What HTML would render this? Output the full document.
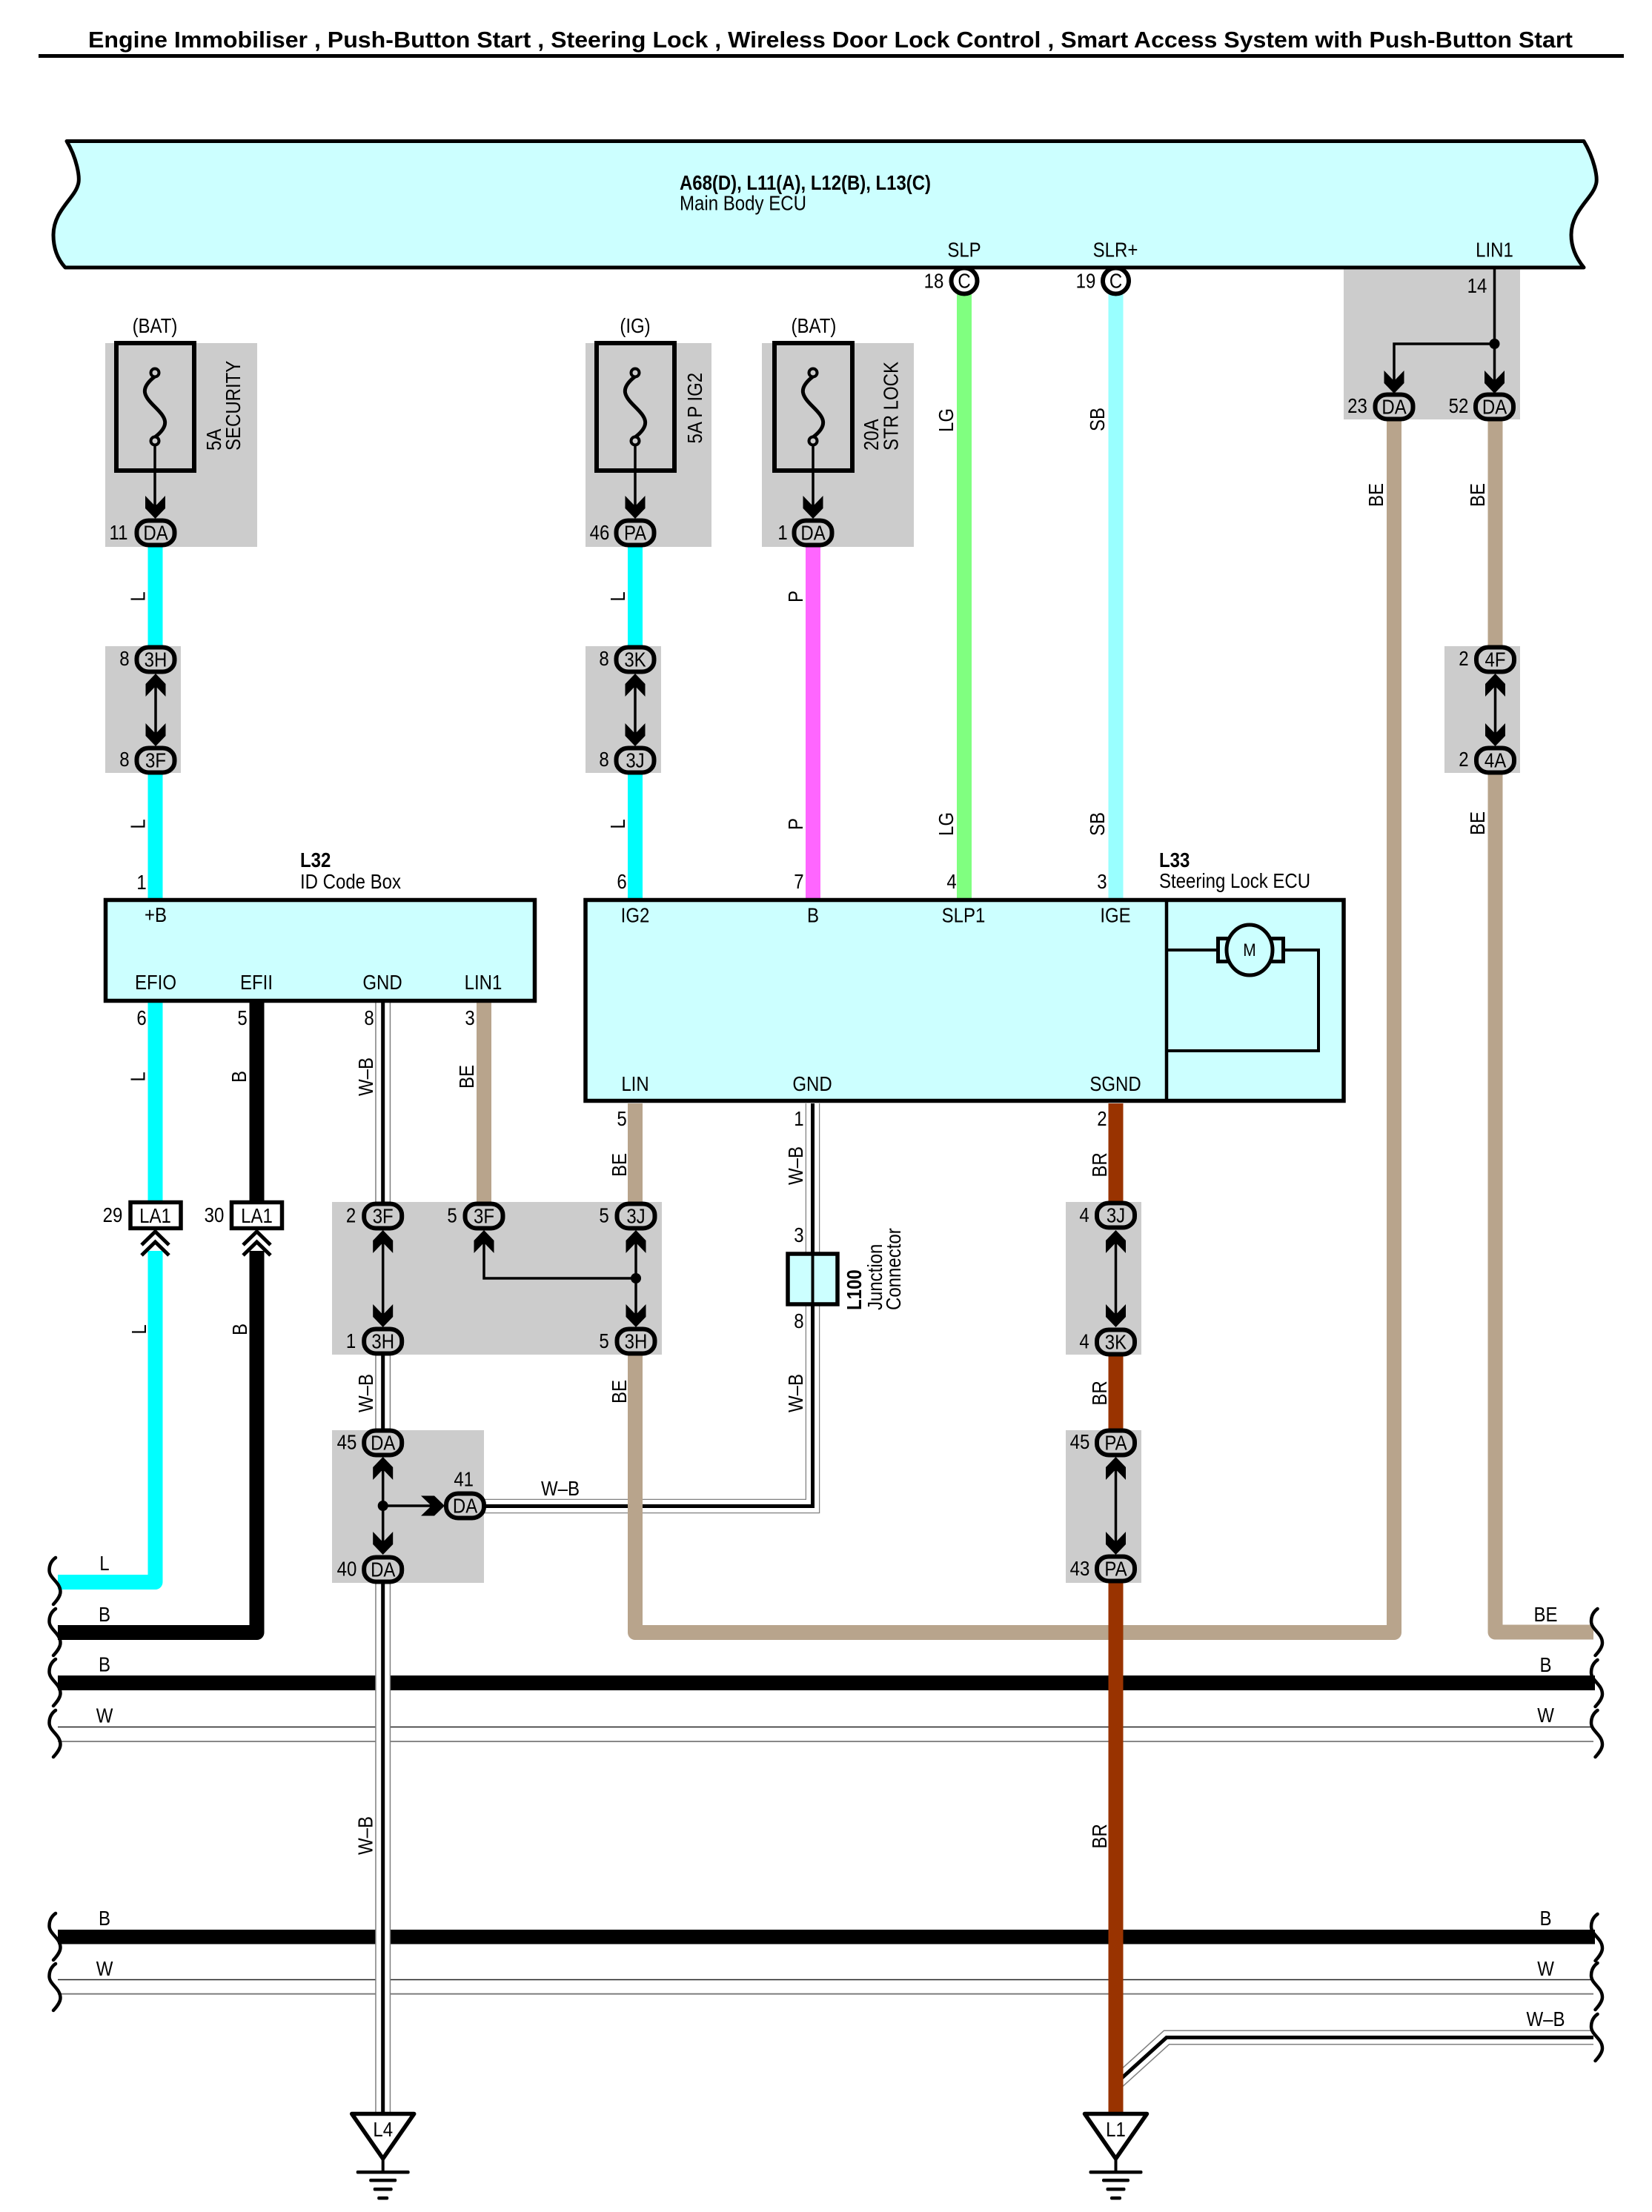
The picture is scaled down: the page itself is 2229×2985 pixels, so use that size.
<!DOCTYPE html>
<html><head><meta charset="utf-8"><style>
html,body{margin:0;padding:0;background:#fff}
svg{display:block}
text{font-family:"Liberation Sans",sans-serif;font-size:27.5px;fill:#000;text-anchor:middle;transform-box:fill-box;transform-origin:center;transform:scaleX(.873)}
.s{text-anchor:start;transform-origin:left center}
.b{font-weight:bold}
.n{transform:none}
</style></head><body>
<svg xmlns="http://www.w3.org/2000/svg" width="2229" height="2985" viewBox="0 0 2229 2985">
<defs>
<g id="p"><rect x="-25.5" y="-16.5" width="51" height="33" rx="16" ry="15" fill="#ccc" stroke="#000" stroke-width="6"/></g>
<g id="c"><circle r="17.5" fill="#fff" stroke="#000" stroke-width="6"/></g>
<path id="ad" d="M0,0 L-13.5,-14 L-13.5,-31 L-2,-19 L2,-19 L13.5,-31 L13.5,-14 Z" fill="#000"/>
<path id="au" d="M0,0 L-13.5,14 L-13.5,31 L-2,19 L2,19 L13.5,31 L13.5,14 Z" fill="#000"/>
<path id="ar" d="M0,0 L-14,-13.5 L-32,-13.5 L-20,-2 L-20,2 L-32,13.5 L-14,13.5 Z" fill="#000"/>
<path id="brk" d="M8.5,0 C3,4 0,10 0,17 C0,28 15,33 15,46 C15,52 10,58 5.5,63" fill="none" stroke="#000" stroke-width="4.5" stroke-linecap="round"/>
<g id="fuse" fill="none" stroke="#000">
<rect x="-52" y="0" width="105" height="172" stroke-width="6" fill="#ccc"/>
<path d="M0,45 C-22,62 -14,72 0,86 C14,100 22,110 0,127" stroke-width="5"/>
<circle cx="0" cy="40" r="5.5" stroke-width="4" fill="#ccc"/>
<circle cx="0" cy="132" r="5.5" stroke-width="4" fill="#ccc"/>
<path d="M0,137 V230" stroke-width="3.5"/>
</g>
<g id="gnd" fill="#000">
<path d="M-42,2.5 H42 L0,63 Z" fill="#fff" stroke="#000" stroke-width="5.5" stroke-linejoin="round"/>
<rect x="-2" y="63" width="4" height="18"/>
<rect x="-36" y="79" width="72" height="4.5" rx="2"/>
<rect x="-18.5" y="90" width="37" height="4.5" rx="2"/>
<rect x="-13" y="102" width="26" height="4.5" rx="2"/>
<rect x="-7.5" y="114" width="15" height="4.5" rx="2"/>
</g>
</defs>

<rect width="2229" height="2985" fill="#fff"/>

<!-- title -->
<text class="b s n" x="119" y="64" style="font-size:31px" textLength="2003" lengthAdjust="spacingAndGlyphs">Engine Immobiliser , Push-Button Start , Steering Lock , Wireless Door Lock Control , Smart Access System with Push-Button Start</text>
<rect x="52" y="73" width="2139" height="5" fill="#000"/>

<!-- grey boxes -->
<g fill="#ccc">
<rect x="142" y="463" width="205" height="275"/>
<rect x="790" y="463" width="170" height="275"/>
<rect x="1028" y="463" width="205" height="275"/>
<rect x="1813" y="361" width="238" height="205"/>
<rect x="142" y="872" width="102" height="171"/>
<rect x="790" y="872" width="102" height="171"/>
<rect x="1949" y="872" width="102" height="171"/>
<rect x="448" y="1622" width="445" height="206"/>
<rect x="448" y="1930" width="205" height="206"/>
<rect x="1438" y="1622" width="102" height="206"/>
<rect x="1438" y="1930" width="102" height="206"/>
</g>

<!-- main ECU -->
<path d="M90,190.5 H2137 C2150,212 2157,240 2153,250 C2148,268 2120,285 2120,317 C2120,335 2128,350 2137,361 H88 C78,350 72,335 72,317 C72,285 100,268 105,250 C109,240 103,212 90,190.5 Z" fill="#ccffff" stroke="#000" stroke-width="5" stroke-linejoin="round"/>
<text class="b s n" x="917" y="256" textLength="339" lengthAdjust="spacingAndGlyphs">A68(D), L11(A), L12(B), L13(C)</text>
<text class="s n" x="917" y="283.5" textLength="171" lengthAdjust="spacingAndGlyphs">Main Body ECU</text>
<text x="1301" y="346.5">SLP</text>
<text x="1505" y="346.5">SLR+</text>
<text x="2016.5" y="346.5">LIN1</text>

<!-- buses -->
<g fill="none">
<path d="M78,2271 H2152" stroke="#000" stroke-width="20"/>
<path d="M78,2613.7 H2152" stroke="#000" stroke-width="19.5"/>
<path d="M78,2330.5 H2150 M78,2671.5 H2150" stroke="#222" stroke-width="1.5"/>
<path d="M78,2350 H2150 M78,2690.7 H2150" stroke="#777" stroke-width="1.8"/>
</g>

<!-- W-B wires -->
<g fill="none" stroke-linejoin="miter">
<path d="M516.7,1353 V1641 M516.7,1810 V1947 M516.7,2118 V2850" stroke="#808080" stroke-width="21"/>
<path d="M516.7,1353 V1641 M516.7,1810 V1947 M516.7,2118 V2850" stroke="#fff" stroke-width="18"/>
<path d="M516.7,1353 V1641 M516.7,1810 V1947 M516.7,2118 V2850" stroke="#000" stroke-width="5"/>
<path d="M1096.5,1489 V2032.5 H627" stroke="#808080" stroke-width="19.5"/>
<path d="M1096.5,1489 V2032.5 H627" stroke="#fff" stroke-width="17"/>
<path d="M1096.5,1489 V2032.5 H627" stroke="#000" stroke-width="5"/>
<path d="M2150,2749.5 H1574 L1505,2812" stroke="#808080" stroke-width="20"/>
<path d="M2150,2749.5 H1574 L1505,2812" stroke="#fff" stroke-width="17"/>
<path d="M2150,2749.5 H1574 L1505,2812" stroke="#000" stroke-width="5"/>
</g>

<!-- coloured wires -->
<g fill="none" stroke-width="20" stroke-linejoin="round">
<path d="M209.5,738 V890 M209.5,1026 V1212 M209.5,1353 V1625 M209.5,1688 V2135 H78" stroke="#00ffff"/>
<path d="M857,738 V890 M857,1026 V1212" stroke="#00ffff"/>
<path d="M1097,738 V1212" stroke="#ff66ff"/>
<path d="M1301,396 V1212" stroke="#80ff80"/>
<path d="M1505.5,396 V1212" stroke="#99ffff"/>
<path d="M346.5,1353 V1625 M346.5,1688 V2203 H78" stroke="#000"/>
<path d="M653,1353 V1641" stroke="#b8a48c"/>
<path d="M857,1489 V1641 M857,1810 V2203 H1881 V549" stroke="#b8a48c"/>
<path d="M2017.5,549 V890 M2017.5,1026 V2202.5 H2150" stroke="#b8a48c"/>
<path d="M1505.5,1489 V1640 M1505.5,1811 V1947 M1505.5,2117 V2850" stroke="#993300"/>
</g>

<!-- breaks -->
<g>
<use href="#brk" x="66.5" y="2102"/><use href="#brk" x="66.5" y="2171"/><use href="#brk" x="66.5" y="2239"/><use href="#brk" x="66.5" y="2308"/>
<use href="#brk" x="66.5" y="2582"/><use href="#brk" x="66.5" y="2650"/>
<use href="#brk" x="2147" y="2171"/><use href="#brk" x="2147" y="2240"/><use href="#brk" x="2147" y="2308"/>
<use href="#brk" x="2147" y="2583"/><use href="#brk" x="2147" y="2649"/><use href="#brk" x="2147" y="2718"/>
</g>

<!-- fuses -->
<use href="#fuse" x="209" y="463"/>
<use href="#fuse" x="857" y="463"/>
<use href="#fuse" x="1097" y="463"/>
<text x="209" y="449">(BAT)</text>
<text x="857" y="449">(IG)</text>
<text x="1098" y="449">(BAT)</text>
<g transform="translate(298,608) rotate(-90)"><text class="s">5A</text></g>
<g transform="translate(324,608) rotate(-90)"><text class="s">SECURITY</text></g>
<g transform="translate(947,598.5) rotate(-90)"><text class="s">5A P IG2</text></g>
<g transform="translate(1185,608) rotate(-90)"><text class="s">20A</text></g>
<g transform="translate(1211.5,608) rotate(-90)"><text class="s">STR LOCK</text></g>

<!-- arrows and tie lines -->
<g stroke="#000" stroke-width="3.5" fill="none">
<path d="M210,925 V990 M857,925 V990 M2017.5,925 V990"/>
<path d="M516.7,1675 V1775 M858,1675 V1775 M858,1725 H653 V1675 M1505.5,1675 V1775"/>
<path d="M516.7,1982 V2082 M516.7,2032 H585 M1505.5,1982 V2082"/>
<path d="M2016.5,361 V515 M2016.5,464 H1881 V515"/>
</g>
<g fill="#000">
<circle cx="858" cy="1725" r="7"/><circle cx="516.7" cy="2032" r="7"/><circle cx="2016.5" cy="464" r="7"/>
</g>
<g>
<use href="#ad" x="209.5" y="700"/><use href="#ad" x="857" y="700"/><use href="#ad" x="1097" y="700"/>
<use href="#ad" x="1881" y="531"/><use href="#ad" x="2016.5" y="531"/>
<use href="#au" x="210" y="909"/><use href="#ad" x="210" y="1007"/>
<use href="#au" x="857" y="909"/><use href="#ad" x="857" y="1007"/>
<use href="#au" x="2017.5" y="909"/><use href="#ad" x="2017.5" y="1007"/>
<use href="#au" x="516.7" y="1660"/><use href="#ad" x="516.7" y="1791"/>
<use href="#au" x="653" y="1660"/>
<use href="#au" x="858" y="1660"/><use href="#ad" x="858" y="1791"/>
<use href="#au" x="1505.5" y="1660"/><use href="#ad" x="1505.5" y="1791"/>
<use href="#au" x="516.7" y="1966"/><use href="#ad" x="516.7" y="2098"/>
<use href="#ar" x="600" y="2032"/>
<use href="#au" x="1505.5" y="1966"/><use href="#ad" x="1505.5" y="2098"/>
</g>

<!-- pills -->
<use href="#p" x="210" y="719"/><text x="210" y="728.500">DA</text>
<use href="#p" x="857" y="719"/><text x="857" y="728.500">PA</text>
<use href="#p" x="1097" y="719"/><text x="1097" y="728.500">DA</text>
<use href="#c" x="1301" y="379"/><text x="1301" y="388.500">C</text>
<use href="#c" x="1505.5" y="379"/><text x="1505.5" y="388.500">C</text>
<use href="#p" x="1881" y="549"/><text x="1881" y="558.500">DA</text>
<use href="#p" x="2016.5" y="549"/><text x="2016.5" y="558.500">DA</text>
<use href="#p" x="210" y="890"/><text x="210" y="899.500">3H</text>
<use href="#p" x="210" y="1026"/><text x="210" y="1035.500">3F</text>
<use href="#p" x="857" y="890"/><text x="857" y="899.500">3K</text>
<use href="#p" x="857" y="1026"/><text x="857" y="1035.500">3J</text>
<use href="#p" x="2017.5" y="890"/><text x="2017.5" y="899.500">4F</text>
<use href="#p" x="2017.5" y="1026"/><text x="2017.5" y="1035.500">4A</text>
<use href="#p" x="516.7" y="1641"/><text x="516.7" y="1650.500">3F</text>
<use href="#p" x="653" y="1641"/><text x="653" y="1650.500">3F</text>
<use href="#p" x="858" y="1641"/><text x="858" y="1650.500">3J</text>
<use href="#p" x="516.7" y="1810"/><text x="516.7" y="1819.500">3H</text>
<use href="#p" x="858" y="1810"/><text x="858" y="1819.500">3H</text>
<use href="#p" x="1505.5" y="1640"/><text x="1505.5" y="1649.500">3J</text>
<use href="#p" x="1505.5" y="1811"/><text x="1505.5" y="1820.500">3K</text>
<use href="#p" x="516.7" y="1947"/><text x="516.7" y="1956.500">DA</text>
<use href="#p" x="516.7" y="2118"/><text x="516.7" y="2127.500">DA</text>
<use href="#p" x="627.5" y="2032"/><text x="627.5" y="2041.500">DA</text>
<use href="#p" x="1505.5" y="1947"/><text x="1505.5" y="1956.500">PA</text>
<use href="#p" x="1505.5" y="2117"/><text x="1505.5" y="2126.500">PA</text>

<!-- LA1 boxes -->
<g fill="#fff" stroke="#000" stroke-width="5.5">
<rect x="176" y="1622.5" width="68" height="35"/>
<rect x="312.5" y="1622.5" width="68" height="35"/>
</g>
<text x="209.5" y="1650">LA1</text><text x="346.5" y="1650">LA1</text>
<g fill="none" stroke="#000" stroke-width="5">
<path d="M191,1680 L209.5,1662 L228,1680 M191,1694 L209.5,1676 L228,1694"/>
<path d="M328,1680 L346.5,1662 L365,1680 M328,1694 L346.5,1676 L365,1694"/>
</g>

<!-- L32 -->
<rect x="142.5" y="1214.5" width="579" height="136" fill="#ccffff" stroke="#000" stroke-width="5.5"/>
<text class="b s" x="405" y="1170">L32</text>
<text class="s" x="405" y="1199">ID Code Box</text>
<text x="210" y="1244">+B</text>
<text x="210" y="1335">EFIO</text><text x="346" y="1335">EFII</text><text x="516" y="1335">GND</text><text x="652" y="1335">LIN1</text>

<!-- L33 -->
<rect x="790" y="1214.5" width="1023" height="271" fill="#ccffff" stroke="#000" stroke-width="5.5"/>
<path d="M1574,1214 V1486" stroke="#000" stroke-width="4.5"/>
<path d="M1574,1282 H1642 M1732,1282 H1779 V1418 H1574" fill="none" stroke="#000" stroke-width="4"/>
<rect x="1643.5" y="1266.5" width="88" height="31" fill="#ccffff" stroke="#000" stroke-width="5"/>
<ellipse cx="1686" cy="1282" rx="31" ry="34" fill="#ccffff" stroke="#000" stroke-width="5"/>
<text x="1686" y="1290" style="font-size:24px">M</text>
<text class="b s" x="1564" y="1170">L33</text>
<text class="s" x="1564" y="1198">Steering Lock ECU</text>
<text x="857" y="1244.5">IG2</text><text x="1097" y="1244.5">B</text><text x="1300" y="1244.5">SLP1</text><text x="1505" y="1244.5">IGE</text>
<text x="857" y="1472">LIN</text><text x="1096" y="1472">GND</text><text x="1505" y="1472">SGND</text>

<!-- L100 -->
<rect x="1063" y="1692" width="67" height="68" fill="#ccffff" stroke="#000" stroke-width="5.5"/>
<path d="M1096.5,1692 V1760" stroke="#000" stroke-width="4"/>
<g transform="translate(1162,1768) rotate(-90)"><text class="b s">L100</text></g>
<g transform="translate(1190,1768) rotate(-90)"><text class="s">Junction</text></g>
<g transform="translate(1215,1768) rotate(-90)"><text class="s">Connector</text></g>
<text x="1078" y="1676">3</text><text x="1078" y="1792">8</text>

<!-- grounds -->
<use href="#gnd" x="516.7" y="2850"/><text x="516.7" y="2883">L4</text>
<use href="#gnd" x="1505.5" y="2850"/><text x="1505.5" y="2883">L1</text>

<!-- pin numbers -->
<text x="160" y="728">11</text><text x="809" y="728">46</text><text x="1056" y="728">1</text>
<text x="1260" y="388.5">18</text><text x="1465" y="388.5">19</text><text x="1993" y="395">14</text>
<text x="1831.5" y="557">23</text><text x="1968" y="557">52</text>
<text x="168" y="898">8</text><text x="168" y="1034">8</text>
<text x="815" y="898">8</text><text x="815" y="1034">8</text>
<text x="1975" y="898">2</text><text x="1975" y="1034">2</text>
<text x="191" y="1200">1</text><text x="839" y="1199">6</text><text x="1078" y="1199">7</text><text x="1284" y="1199">4</text><text x="1487" y="1199">3</text>
<text x="191" y="1383">6</text><text x="327" y="1383">5</text><text x="498" y="1383">8</text><text x="634" y="1383">3</text>
<text x="839" y="1519">5</text><text x="1078" y="1519">1</text><text x="1487" y="1519">2</text>
<text x="152" y="1649">29</text><text x="289" y="1649">30</text>
<text x="473.5" y="1649.5">2</text><text x="610" y="1649.5">5</text><text x="815" y="1649.5">5</text>
<text x="473.5" y="1819">1</text><text x="815" y="1819">5</text>
<text x="1463" y="1649">4</text><text x="1463" y="1819.5">4</text>
<text x="468" y="1955.5">45</text><text x="468" y="2126.5">40</text><text x="625.7" y="2005.5">41</text>
<text x="1457" y="1955">45</text><text x="1457" y="2126">43</text>

<!-- horizontal wire labels -->
<text x="756" y="2018">W–B</text>
<text x="141" y="2119">L</text><text x="141" y="2188">B</text><text x="141" y="2255.5">B</text><text x="141" y="2324.5">W</text>
<text x="141" y="2598">B</text><text x="141" y="2666">W</text>
<text x="2085.5" y="2188">BE</text><text x="2085.5" y="2256">B</text><text x="2085.5" y="2324">W</text>
<text x="2085.5" y="2598">B</text><text x="2085.5" y="2666">W</text><text x="2085.5" y="2734">W–B</text>

<!-- rotated wire labels -->
<g transform="translate(195.7,805) rotate(-90)"><text>L</text></g>
<g transform="translate(195.7,1112) rotate(-90)"><text>L</text></g>
<g transform="translate(843,805) rotate(-90)"><text>L</text></g>
<g transform="translate(843,1112) rotate(-90)"><text>L</text></g>
<g transform="translate(1083,805) rotate(-90)"><text>P</text></g>
<g transform="translate(1083,1112) rotate(-90)"><text>P</text></g>
<g transform="translate(1286,567) rotate(-90)"><text>LG</text></g>
<g transform="translate(1286,1112) rotate(-90)"><text>LG</text></g>
<g transform="translate(1490,566) rotate(-90)"><text>SB</text></g>
<g transform="translate(1490,1112) rotate(-90)"><text>SB</text></g>
<g transform="translate(1866,668) rotate(-90)"><text>BE</text></g>
<g transform="translate(2003,668) rotate(-90)"><text>BE</text></g>
<g transform="translate(2003,1111) rotate(-90)"><text>BE</text></g>
<g transform="translate(195.5,1453) rotate(-90)"><text>L</text></g>
<g transform="translate(332,1453) rotate(-90)"><text>B</text></g>
<g transform="translate(503,1453) rotate(-90)"><text>W–B</text></g>
<g transform="translate(639,1453) rotate(-90)"><text>BE</text></g>
<g transform="translate(845,1572) rotate(-90)"><text>BE</text></g>
<g transform="translate(1083,1573) rotate(-90)"><text>W–B</text></g>
<g transform="translate(1493,1572) rotate(-90)"><text>BR</text></g>
<g transform="translate(197,1794) rotate(-90)"><text>L</text></g>
<g transform="translate(333,1794) rotate(-90)"><text>B</text></g>
<g transform="translate(503,1880) rotate(-90)"><text>W–B</text></g>
<g transform="translate(845,1878) rotate(-90)"><text>BE</text></g>
<g transform="translate(1083,1880) rotate(-90)"><text>W–B</text></g>
<g transform="translate(1493,1880) rotate(-90)"><text>BR</text></g>
<g transform="translate(502.7,2477) rotate(-90)"><text>W–B</text></g>
<g transform="translate(1493,2478) rotate(-90)"><text>BR</text></g>
</svg>
</body></html>
